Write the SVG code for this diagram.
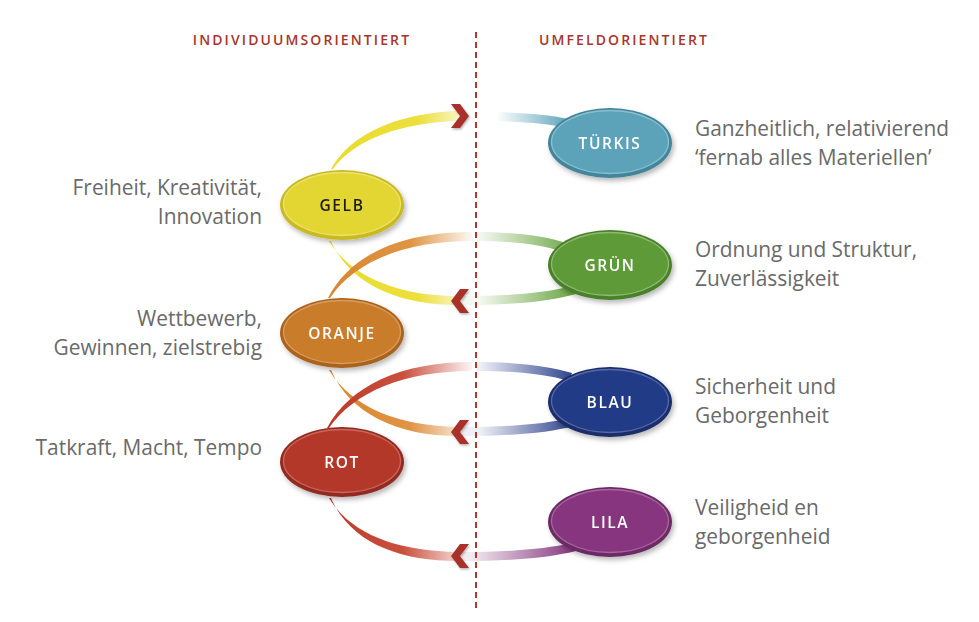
<svg xmlns="http://www.w3.org/2000/svg" width="979" height="622" viewBox="0 0 979 622">
<style>
.hdr{font-family:"Open Sans","Liberation Sans",sans-serif;font-size:14px;font-weight:600;letter-spacing:2.1px;fill:#a8352b;text-anchor:middle}
.desc{font-family:"Open Sans","Liberation Sans",sans-serif;font-size:20.9px;fill:#6a6a6a}
.lt{text-anchor:end}
.lbl{font-family:"Open Sans","Liberation Sans",sans-serif;font-size:15.5px;font-weight:600;letter-spacing:1.6px;fill:#ffffff;text-anchor:middle}
.rim{stroke:none}
.face{stroke-width:1.3;stroke-opacity:0.75}
.arrow{fill:#a8322a;filter:url(#ash)}
</style>
<defs>
<filter id="sh" x="-20%" y="-20%" width="150%" height="160%">
<feDropShadow dx="2" dy="3" stdDeviation="2.5" flood-color="#000" flood-opacity="0.28"/>
</filter>
<filter id="ash" x="-40%" y="-40%" width="200%" height="200%">
<feDropShadow dx="1" dy="1.5" stdDeviation="1.2" flood-color="#000" flood-opacity="0.3"/>
</filter>
<linearGradient id="gY1" gradientUnits="userSpaceOnUse" x1="330" y1="0" x2="476" y2="0"><stop offset="0" stop-color="#e9dc2e"/><stop offset="0.6" stop-color="#ecdf3a"/><stop offset="1" stop-color="#e9dc2e" stop-opacity="0"/></linearGradient>
<linearGradient id="gO" gradientUnits="userSpaceOnUse" x1="330" y1="0" x2="476" y2="0"><stop offset="0" stop-color="#d8862f"/><stop offset="0.55" stop-color="#df9445"/><stop offset="1" stop-color="#df9445" stop-opacity="0"/></linearGradient>
<linearGradient id="gR" gradientUnits="userSpaceOnUse" x1="330" y1="0" x2="476" y2="0"><stop offset="0" stop-color="#bd3a2a"/><stop offset="0.5" stop-color="#c9503e"/><stop offset="1" stop-color="#c9503e" stop-opacity="0"/></linearGradient>
<linearGradient id="gT" gradientUnits="userSpaceOnUse" x1="478" y1="0" x2="570" y2="0"><stop offset="0.2" stop-color="#5ba2b9" stop-opacity="0"/><stop offset="1" stop-color="#5ba2b9"/></linearGradient>
<linearGradient id="gG" gradientUnits="userSpaceOnUse" x1="470" y1="0" x2="575" y2="0"><stop offset="0.1" stop-color="#6aa442" stop-opacity="0.08"/><stop offset="1" stop-color="#6aa442"/></linearGradient>
<linearGradient id="gB" gradientUnits="userSpaceOnUse" x1="470" y1="0" x2="575" y2="0"><stop offset="0.1" stop-color="#2a3f8a" stop-opacity="0.08"/><stop offset="1" stop-color="#2a3f8a"/></linearGradient>
<linearGradient id="gL" gradientUnits="userSpaceOnUse" x1="465" y1="0" x2="575" y2="0"><stop offset="0.05" stop-color="#86367e" stop-opacity="0.1"/><stop offset="1" stop-color="#86367e"/></linearGradient>
</defs>
<rect width="979" height="622" fill="#ffffff"/>

<text class="hdr" x="302" y="45">INDIVIDUUMSORIENTIERT</text>
<text class="hdr" x="624" y="45">UMFELDORIENTIERT</text>

<g id="connectors">
<path d="M331,169 C352,132 400,113 458,111 L458,121 C402,123 356,138 333,169 Z" fill="url(#gY1)"/>
<path d="M476,112 C515,112 545,114 568,119 L566,128 C545,123 515,121 476,121 Z" fill="url(#gT)"/>
<path d="M329,241 C352,278 400,296 458,296 L458,305 C398,305 350,284 331,241 Z" fill="url(#gY1)"/>
<path d="M462,296 C510,296 545,293 572,286 L576,294 C548,302 510,305 462,305 Z" fill="url(#gG)"/>
<path d="M328,298 C350,255 400,232 472,232 L472,241 C404,241 354,262 330,298 Z" fill="url(#gO)"/>
<path d="M476,232 C515,232 545,236 566,243 L563,252 C543,245 515,241 476,241 Z" fill="url(#gG)"/>
<path d="M329,370 C352,408 400,426 458,427 L458,436 C398,436 350,414 331,370 Z" fill="url(#gO)"/>
<path d="M462,427 C510,427 545,424 570,418 L574,426 C548,433 510,436 462,436 Z" fill="url(#gB)"/>
<path d="M327,428 C350,386 400,362 472,362 L472,371 C404,371 354,392 329,428 Z" fill="url(#gR)"/>
<path d="M476,362 C515,362 548,366 572,373 L569,381 C545,374 515,371 476,371 Z" fill="url(#gB)"/>
<path d="M329,498 C352,536 400,551 458,552 L458,561 C398,561 350,542 331,498 Z" fill="url(#gR)"/>
<path d="M462,552 C510,552 545,549 572,543 L576,551 C548,558 510,561 462,561 Z" fill="url(#gL)"/>
<polygon class="arrow" points="451,104 460,104 469,116 460,128 451,128 460,116"/>
<polygon class="arrow" points="469,289 460,289 451,301 460,313 469,313 460,301"/>
<polygon class="arrow" points="469,420 460,420 451,432 460,444 469,444 460,432"/>
<polygon class="arrow" points="469,544 460,544 451,556 460,568 469,568 460,556"/>
<line x1="476" y1="32" x2="476" y2="612" stroke="#b3362c" stroke-width="2" stroke-dasharray="6,4"/>
</g>

<g id="node-gelb" filter="url(#sh)">
<ellipse class="rim" cx="342" cy="205" rx="62" ry="35" fill="#c9ba22"/>
<ellipse class="face" cx="342" cy="204" rx="58.5" ry="31.5" fill="#e3d533" stroke="#f4ec86"/>
<text class="lbl" x="342" y="210.5" style="fill:#1c1c1c">GELB</text>
</g>
<g id="node-oranje" filter="url(#sh)">
<ellipse class="rim" cx="342" cy="333" rx="62" ry="35" fill="#aa631d"/>
<ellipse class="face" cx="342" cy="332" rx="58.5" ry="31.5" fill="#c97b2b" stroke="#e6ae74"/>
<text class="lbl" x="342" y="338.5">ORANJE</text>
</g>
<g id="node-rot" filter="url(#sh)">
<ellipse class="rim" cx="342" cy="462" rx="62" ry="35" fill="#932c20"/>
<ellipse class="face" cx="342" cy="461" rx="58.5" ry="31.5" fill="#b3392a" stroke="#da7a6c"/>
<text class="lbl" x="342" y="467.5">ROT</text>
</g>
<g id="node-tuerkis" filter="url(#sh)">
<ellipse class="rim" cx="610" cy="143" rx="62" ry="35" fill="#43869b"/>
<ellipse class="face" cx="610" cy="142" rx="58.5" ry="31.5" fill="#5ba2b9" stroke="#a2cfdb"/>
<text class="lbl" x="610" y="148.5">TÜRKIS</text>
</g>
<g id="node-gruen" filter="url(#sh)">
<ellipse class="rim" cx="610" cy="265" rx="62" ry="35" fill="#4a8129"/>
<ellipse class="face" cx="610" cy="264" rx="58.5" ry="31.5" fill="#5f9a38" stroke="#a3c98a"/>
<text class="lbl" x="610" y="270.5">GRÜN</text>
</g>
<g id="node-blau" filter="url(#sh)">
<ellipse class="rim" cx="610" cy="402" rx="62" ry="35" fill="#1a2d6a"/>
<ellipse class="face" cx="610" cy="401" rx="58.5" ry="31.5" fill="#233b86" stroke="#6a7cb8"/>
<text class="lbl" x="610" y="407.5">BLAU</text>
</g>
<g id="node-lila" filter="url(#sh)">
<ellipse class="rim" cx="610" cy="522" rx="62" ry="35" fill="#6b2a64"/>
<ellipse class="face" cx="610" cy="521" rx="58.5" ry="31.5" fill="#86367e" stroke="#b878b0"/>
<text class="lbl" x="610" y="527.5">LILA</text>
</g>

<g id="descriptions">
<text class="desc lt" x="262" y="195">Freiheit, Kreativität,</text>
<text class="desc lt" x="262" y="224">Innovation</text>
<text class="desc lt" x="262" y="326">Wettbewerb,</text>
<text class="desc lt" x="262" y="355">Gewinnen, zielstrebig</text>
<text class="desc lt" x="262" y="455">Tatkraft, Macht, Tempo</text>
<text class="desc" x="695" y="136">Ganzheitlich, relativierend</text>
<text class="desc" x="695" y="165">‘fernab alles Materiellen’</text>
<text class="desc" x="695" y="257">Ordnung und Struktur,</text>
<text class="desc" x="695" y="286">Zuverlässigkeit</text>
<text class="desc" x="695" y="394">Sicherheit und</text>
<text class="desc" x="695" y="423">Geborgenheit</text>
<text class="desc" x="695" y="515">Veiligheid en</text>
<text class="desc" x="695" y="544">geborgenheid</text>
</g>
</svg>
